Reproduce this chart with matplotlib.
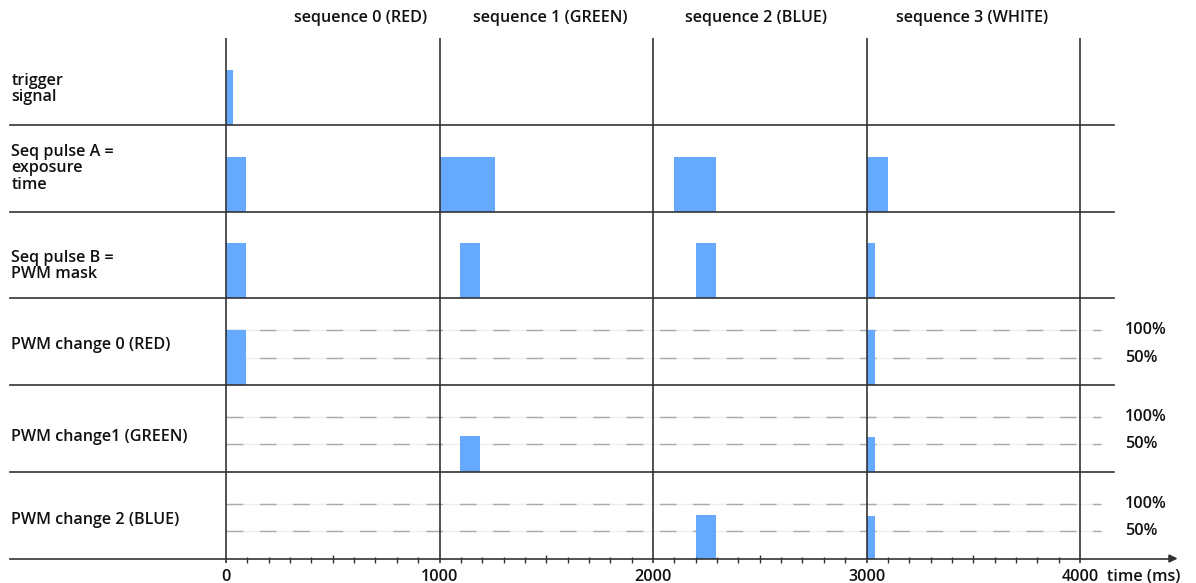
import matplotlib
matplotlib.use('Agg')
import matplotlib.pyplot as plt

plt.rcParams['font.family'] = ['Open Sans', 'DejaVu Sans']

# row labels, top to bottom
row_labels = ['trigger\nsignal', 'Seq pulse A =\nexposure\ntime', 'Seq pulse B =\nPWM mask',
              'PWM change 0 (RED)', 'PWM change1 (GREEN)', 'PWM change 2 (BLUE)']
seq_labels = ['sequence 0 (RED)', 'sequence 1 (GREEN)', 'sequence 2 (BLUE)', 'sequence 3 (WHITE)']
seq_starts = [0, 1000, 2000, 3000, 4000]

# pulses (ms): start, end
trigger_start = [0]
trigger_end = [35]
exposure_start = [0, 1000, 2100, 3000]
exposure_end = [92, 1260, 2295, 3100]
mask_start = [0, 1095, 2200, 3000]
mask_end = [92, 1190, 2295, 3040]

# PWM changes (ms) and level (%)
red_start = [0, 3000]
red_end = [95, 3040]
red_level = [100, 100]
green_start = [1095, 3000]
green_end = [1190, 3040]
green_level = [65, 63]
blue_start = [2200, 3000]
blue_end = [2295, 3040]
blue_level = [80, 77]

pwm_lines = [100, 50]

BLUE = '#66aaff'
LINE = '#333333'
TXT = '#111111'
HIGH = 0.634          # height of a full pulse in row units
FS = 11.6
FW = 'semibold'

fig = plt.figure(figsize=(11.96, 5.83), dpi=100)
ax = fig.add_axes([0, 0, 1, 1])
ax.set_xlim(-1058.5, 4543)
ax.set_ylim(-0.282, 6.438)
ax.axis('off')

n = len(row_labels)
bottoms = [n - 1 - i for i in range(n)]

def pulses(row, starts, ends, levels=None):
    if levels is None:
        levels = [100] * len(starts)
    widths = [e - s for s, e in zip(starts, ends)]
    heights = [HIGH * l / 100 for l in levels]
    ax.bar(starts, heights, width=widths, bottom=bottoms[row], align='edge',
           color=BLUE, linewidth=0, zorder=2)

pulses(0, trigger_start, trigger_end)
pulses(1, exposure_start, exposure_end)
pulses(2, mask_start, mask_end)
pulses(3, red_start, red_end, red_level)
pulses(4, green_start, green_end, green_level)
pulses(5, blue_start, blue_end, blue_level)

# dashed PWM reference levels
for row in (3, 4, 5):
    for lv in pwm_lines:
        y = bottoms[row] + HIGH * lv / 100
        ax.plot([0, 4100], [y, y], color='#eeeeee', lw=1.0, zorder=1)
        ax.plot([0, 4100], [y, y], color='#aaaaaa', lw=1.0, dashes=(12, 12), zorder=1)
        ax.text(4212, y, f'{lv}%', ha='left', va='center', fontsize=FS, color=TXT,
                fontweight=FW)

# row separators
for b in bottoms[:-1]:
    ax.plot([-1012, 4160], [b, b], color=LINE, lw=1.2, zorder=3)

# time axis with arrow
ax.plot([-1012, 4440], [0, 0], color=LINE, lw=1.2, zorder=3)
ax.annotate('', xy=(4470, 0), xytext=(4400, 0),
            arrowprops=dict(arrowstyle='-|>', color=LINE, lw=1.2, mutation_scale=12))

# sequence boundaries
ax.vlines(seq_starts, -0.052, n, color=LINE, lw=1.2, zorder=3)
minor = [t for t in range(0, 4001, 100) if t % 1000]
ax.vlines([t for t in minor if t % 500], -0.052, 0.017, color=LINE, lw=1.0, zorder=3)
ax.vlines([t for t in minor if t % 500 == 0], -0.052, 0.04, color=LINE, lw=1.0, zorder=3)

for t in seq_starts:
    ax.text(t, -0.213, str(t), ha='center', va='center', fontsize=FS, color=TXT,
            fontweight=FW)
ax.text(4125, -0.213, 'time (ms)', ha='left', va='center', fontsize=FS, color=TXT,
        fontweight=FW)

# headers
seq_label_x = [632, 1518, 2483, 3494]
for x, s in zip(seq_label_x, seq_labels):
    ax.text(x, 6.231, s, ha='center', va='center', fontsize=FS, color=TXT, fontweight=FW)

# row labels
label_y = [5.412, 4.496, 3.372, 2.461, 1.400, 0.444]
for y, s in zip(label_y, row_labels):
    ax.text(-1005, y, s, ha='left', va='center', fontsize=FS, color=TXT, fontweight=FW,
            linespacing=1.02)

fig.savefig('out.png', dpi=100)
